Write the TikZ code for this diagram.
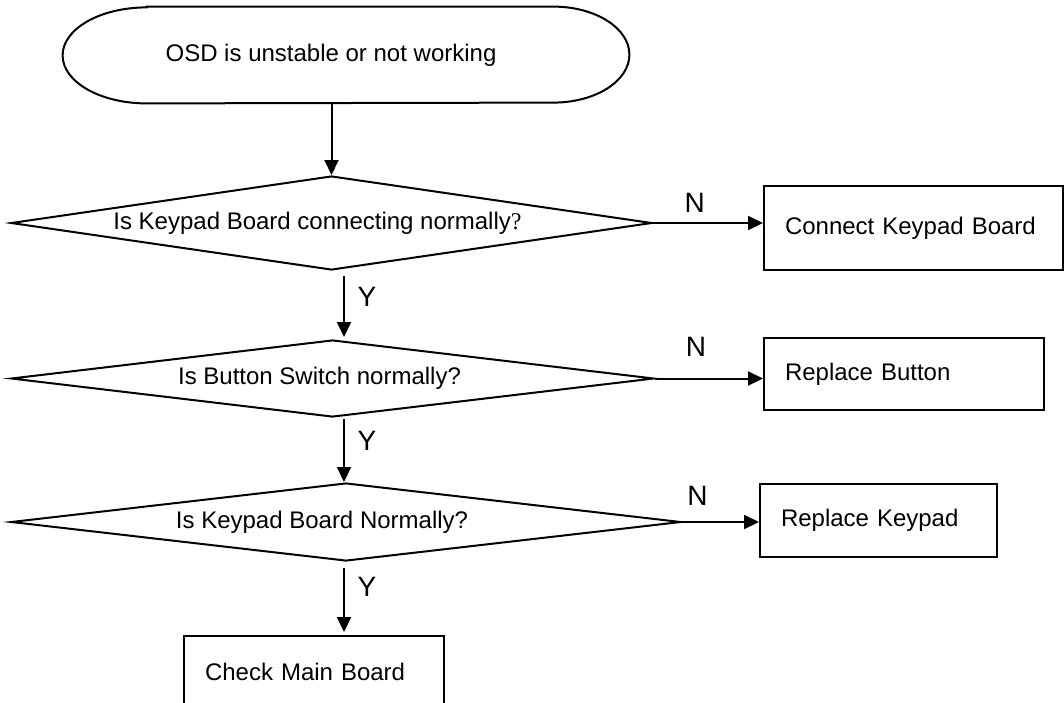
\documentclass[tikz,border=0pt]{standalone}
\usepackage{fontspec}
\setmainfont{Liberation Sans}
\newfontfamily\qmark{Liberation Serif}
\usetikzlibrary{arrows.meta,shapes.geometric,calc}
\tikzset{
  flow/.style={line width=1pt,-{Triangle[length=7.5pt,width=7pt]}},
  decision/.style={diamond,draw,line width=1pt,inner sep=0pt},
  actionbox/.style={draw,line width=1pt,inner xsep=10.5pt,inner ysep=0pt,
    align=left,anchor=north west},
  nlab/.style={font=\fontsize{14}{16}\selectfont},
  ylab/.style={right=3pt,font=\fontsize{14}{16}\selectfont}
}

\begin{document}
\begin{tikzpicture}[x=0.5pt,y=-0.5pt,font=\fontsize{12}{14}\selectfont]
  \clip (0,0) rectangle (1064,702);
  % start terminal
  \node[minimum width=283pt,minimum height=48pt,inner sep=0pt] (start) at (346,55)
    {OSD is unstable or not working\hspace*{15pt}};
  \draw[line width=1pt] ([xshift=42pt]start.north west) -- ([xshift=-38pt]start.north east)
    arc[start angle=90,end angle=-90,x radius=38pt,y radius=24pt]
    -- ([xshift=42pt]start.south west)
    arc[start angle=270,end angle=90,x radius=42pt,y radius=24pt] -- cycle;

  % decisions
  \node[decision,aspect=6.82,minimum width=320.5pt,minimum height=47pt] (d1) at (331.5,223)
    {Is Keypad Board connecting normally{\qmark ?}\hspace*{14pt}};
  \node[decision,aspect=8.35,minimum width=321.5pt,minimum height=38.5pt] (d2) at (332.5,378.5)
    {Is Button Switch normally?\hspace*{13pt}};
  \node[decision,aspect=8.59,minimum width=335pt,minimum height=39pt] (d3) at (346,522)
    {Is Keypad Board Normally?\hspace*{24pt}};

  % actions
  \node[actionbox,text width=128.5pt,minimum height=42pt] (box1) at (763,185) {Connect Keypad Board};
  \node[actionbox,text width=119pt,minimum height=36pt] (box2) at (763,337) {Replace Button};
  \node[actionbox,text width=97.5pt,minimum height=36.5pt] (box3) at (759,483) {Replace Keypad};
  \node[actionbox,text width=109pt,minimum height=36pt] (box4) at (183,635) {Check Main Board};

  % connectors
  \draw[flow] (start.south -| d1.north) -- (d1.north);
  \draw[flow] (d1.east) -- (d1.east -| box1.west) node[nlab,pos=0.38,above=1.5pt] {N};
  \draw[flow] (d2.east) -- (d2.east -| box2.west) node[nlab,pos=0.38,above=7pt] {N};
  \draw[flow] (d3.east) -- (d3.east -| box3.west) node[nlab,pos=0.2,above=4.5pt] {N};
  \draw[flow] ($(d1.south)+(12.5,5)$) -- ($(d2.north)+(11.5,-2)$) node[ylab,pos=0.35] {Y};
  \draw[flow] ($(d2.south)+(11.5,1)$) -- ($(d3.north)+(-2,0)$) node[ylab,pos=0.35] {Y};
  \draw[flow] ($(d3.south)+(-2,6)$) -- ($(d3.south |- box4.north)+(-2,-3)$) node[ylab,pos=0.3] {Y};
\end{tikzpicture}
\end{document}
